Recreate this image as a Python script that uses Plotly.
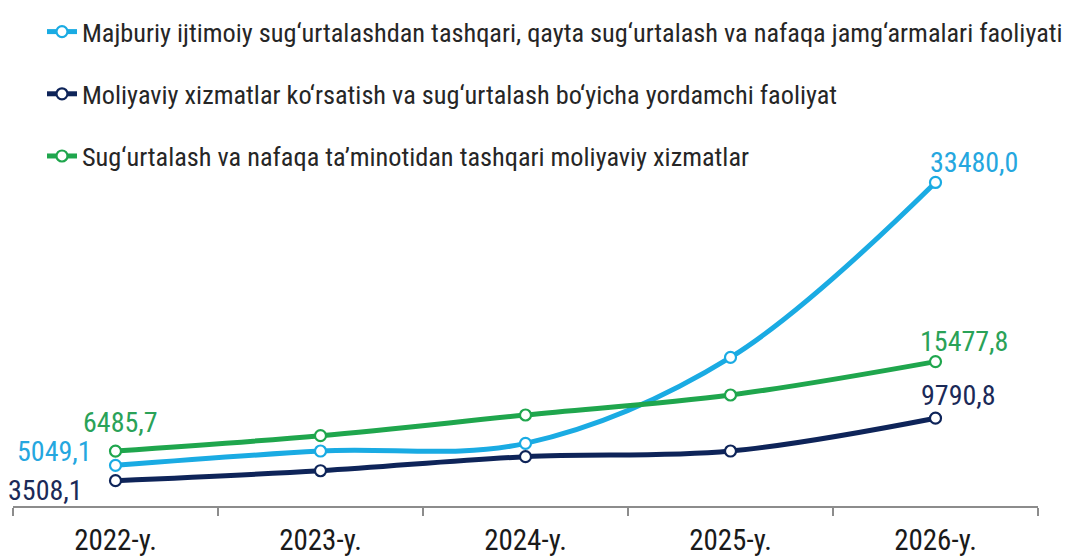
import plotly.graph_objects as go

years = ["2022-y.", "2023-y.", "2024-y.", "2025-y.", "2026-y."]
names = [
    "Majburiy ijtimoiy sug‘urtalashdan tashqari, qayta sug‘urtalash va nafaqa jamg‘armalari faoliyati",
    "Moliyaviy xizmatlar ko‘rsatish va sug‘urtalash bo‘yicha yordamchi faoliyat",
    "Sug‘urtalash va nafaqa ta’minotidan tashqari moliyaviy xizmatlar",
]
s_reinsurance = [5049.1, 6490, 7260, 15900, 33480.0]
s_auxiliary = [3508.1, 4510, 5920, 6490, 9790.8]
s_other = [6485.7, 8030, 10110, 12120, 15477.8]

series = [s_reinsurance, s_auxiliary, s_other]
colors = ["#1AABE3", "#0E2459", "#1FA64D"]
label_colors = ["#25A7DF", "#1B2A58", "#2AA258"]

FONT = "Roboto Condensed, Roboto, Liberation Sans Narrow, sans-serif"

def fmt(v):
    return f"{v:.1f}".replace(".", ",")

fig = go.Figure()
for i, (nm, vals, c) in enumerate(zip(names, series, colors)):
    fig.add_trace(go.Scatter(
        x=years, y=vals, name=nm, mode="lines+markers",
        legendgroup=f"g{i}",
        line=dict(color=c, width=5, shape="spline", smoothing=1.0),
        marker=dict(symbol="circle", size=11, color="white", line=dict(color=c, width=2.2)),
        cliponaxis=False,
    ))

# first/last point labels
# (series index, point index, xanchor, yanchor, xshift, yshift)
label_pos = [
    (0, 0, "right", "middle", -22, 14),
    (0, 4, "left", "bottom", -8, 1),
    (1, 0, "right", "middle", -31, -10),
    (1, 4, "left", "bottom", -17, 4),
    (2, 0, "center", "bottom", 5, 10),
    (2, 4, "left", "bottom", -18, 2),
]
for si, pi, xa, ya, xs, ys in label_pos:
    fig.add_annotation(
        x=years[pi], y=series[si][pi], xref="x", yref="y",
        text=fmt(series[si][pi]), showarrow=False,
        xanchor=xa, yanchor=ya, xshift=xs, yshift=ys,
        font=dict(family=FONT, size=28, color=label_colors[si]),
    )

fig.update_layout(
    width=1079, height=558,
    margin=dict(l=5, r=49, t=12, b=60, autoexpand=False),
    paper_bgcolor="white", plot_bgcolor="white",
    font=dict(family=FONT, color="#262626"),
    showlegend=True,
    legend=dict(
        xref="container", yref="container",
        x=0.0315, y=1.02, xanchor="left", yanchor="top",
        font=dict(family=FONT, size=26.3, color="#262626"),
        bgcolor="rgba(0,0,0,0)", tracegroupgap=25,
    ),
    xaxis=dict(
        type="category", range=[-0.5, 4.5],
        showline=True, linecolor="#8C8C8C", linewidth=1.5,
        ticks="outside", tickson="boundaries", ticklen=8, tickcolor="#8C8C8C", tickwidth=1.5,
        showgrid=False, zeroline=False, automargin=False, ticklabelstandoff=7,
        tickfont=dict(family=FONT, size=29, color="#1A1A1A"),
    ),
    yaxis=dict(
        range=[965, 49808], visible=False, showgrid=False, zeroline=False, automargin=False,
    ),
)

fig.write_html("out.html")
